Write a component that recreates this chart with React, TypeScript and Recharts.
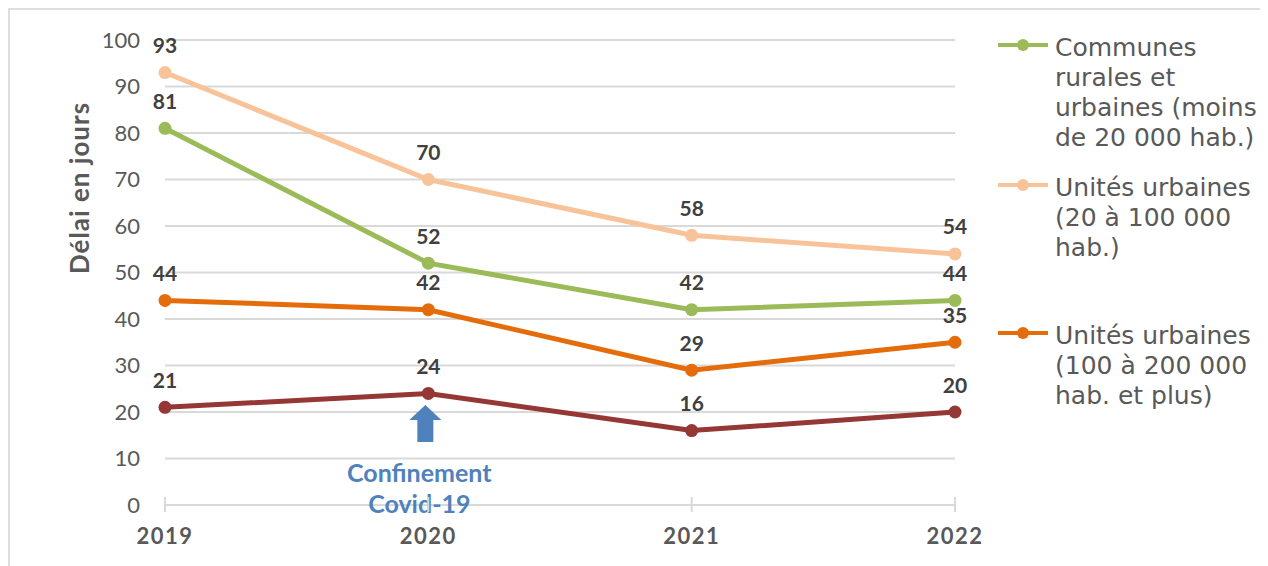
import React from 'react';
import {
  LineChart,
  Line,
  XAxis,
  YAxis,
  CartesianGrid,
  LabelList,
  Legend,
  ReferenceDot,
} from 'recharts';

const categories = ['2019', '2020', '2021', '2022'];
const communesRurales = [81, 52, 42, 44];
const unites20a100 = [93, 70, 58, 54];
const unites100a200 = [44, 42, 29, 35];
const grandesUnites = [21, 24, 16, 20];
const yTicks = [0, 10, 20, 30, 40, 50, 60, 70, 80, 90, 100];

const yLabel = 'Délai en jours';
const annotationLines = ['Confinement', 'Covid-19'];
const annotationCategory = '2020';

const series = [
  {
    key: 'unites20a100',
    color: '#F9C39A',
    legend: ['Unités urbaines', '(20 à 100 000', 'hab.)'],
    name: 'Unités urbaines (20 à 100 000 hab.)',
  },
  {
    key: 'communesRurales',
    color: '#9BBB59',
    legend: ['Communes', 'rurales et', 'urbaines (moins', 'de 20 000 hab.)'],
    name: 'Communes rurales et urbaines (moins de 20 000 hab.)',
  },
  {
    key: 'unites100a200',
    color: '#E46C0A',
    legend: ['Unités urbaines', '(100 à 200 000', 'hab. et plus)'],
    name: 'Unités urbaines (100 à 200 000 hab. et plus)',
  },
  {
    key: 'grandesUnites',
    color: '#953735',
    legend: null,
    name: 'Autres',
  },
];

const legendOrder = ['communesRurales', 'unites20a100', 'unites100a200'];
const legendGaps = [0, 20, 58];

const data = categories.map((c, i) => ({
  year: c,
  communesRurales: communesRurales[i],
  unites20a100: unites20a100[i],
  unites100a200: unites100a200[i],
  grandesUnites: grandesUnites[i],
}));

const FONT = 'Lato, "Open Sans", sans-serif';
const LEGEND_FONT = '"DejaVu Sans", Verdana, sans-serif';

const DataLabel = (props: any) => {
  const { x, y, value } = props;
  return (
    <text
      x={x}
      y={y - 28}
      textAnchor="middle"
      dominantBaseline="central"
      fontFamily={FONT}
      fontWeight={700}
      fontSize={21}
      fill="#404040"
    >
      {value}
    </text>
  );
};

const XTick = (props: any) => {
  const { x, y, payload } = props;
  return (
    <g>
      <line x1={x} x2={x} y1={y - 8} y2={y + 7} stroke="#d9d9d9" strokeWidth={2} />
      <text
        x={x}
        y={y + 30}
        textAnchor="middle"
        dominantBaseline="central"
        fontFamily={FONT}
        fontWeight={700}
        fontSize={22}
        letterSpacing={1.5}
        fill="#595959"
      >
        {payload.value}
      </text>
    </g>
  );
};

const YLabel = (props: any) => {
  const { viewBox } = props;
  const x = viewBox.x - 26;
  const y = viewBox.y + 148;
  return (
    <text
      x={x}
      y={y}
      transform={`rotate(-90 ${x} ${y})`}
      textAnchor="middle"
      dominantBaseline="central"
      fontFamily={FONT}
      fontWeight={700}
      fontSize={26}
      letterSpacing={1}
      fill="#595959"
    >
      {yLabel}
    </text>
  );
};

const Annotation = (props: any) => {
  const { cx, cy } = props;
  const ax = cx - 3;
  const tip = cy - 100;
  const headBase = cy - 85;
  const shaftBottom = cy - 63;
  const pts = [
    [ax, tip],
    [ax + 16, headBase],
    [ax + 8, headBase],
    [ax + 8, shaftBottom],
    [ax - 8, shaftBottom],
    [ax - 8, headBase],
    [ax - 16, headBase],
  ]
    .map((p) => p.join(','))
    .join(' ');
  return (
    <g>
      <polygon points={pts} fill="#4F81BD" />
      {annotationLines.map((t, i) => (
        <text
          key={t}
          x={cx - 9}
          y={cy - 33 + i * 31}
          textAnchor="middle"
          dominantBaseline="central"
          fontFamily={FONT}
          fontWeight={700}
          fontSize={25}
          fill="#4F81BD"
        >
          {t}
        </text>
      ))}
    </g>
  );
};

const LegendContent = () => {
  return (
    <div style={{ fontFamily: LEGEND_FONT, fontSize: 25, lineHeight: '30px', color: '#595959' }}>
      {legendOrder.map((k, i) => {
        const s = series.find((q) => q.key === k)!;
        return (
          <div key={k} style={{ position: 'relative', marginTop: legendGaps[i], paddingLeft: 57 }}>
            <svg width={50} height={24} style={{ position: 'absolute', left: 0, top: 0 }}>
              <line x1={0} x2={50} y1={12} y2={12} stroke={s.color} strokeWidth={4} />
              <circle cx={25} cy={12} r={6} fill={s.color} />
            </svg>
            {s.legend!.map((l) => (
              <div key={l} style={{ whiteSpace: 'nowrap' }}>
                {l}
              </div>
            ))}
          </div>
        );
      })}
    </div>
  );
};

export default function App() {
  return (
    <div
      style={{
        position: 'relative',
        width: 1256,
        height: 570,
        border: '2px solid #dedede',
        boxSizing: 'border-box',
        background: '#fff',
        fontFamily: FONT,
      }}
    >
      <div style={{ position: 'absolute', left: 0, top: 0 }}>
        <LineChart
          width={1252}
          height={556}
          data={data}
          margin={{ top: 30, right: 307, bottom: 16, left: 95 }}
        >
          <CartesianGrid vertical={false} stroke="#d9d9d9" strokeWidth={2} />
          <XAxis
            dataKey="year"
            scale="point"
            padding={{ left: 0, right: 0 }}
            axisLine={{ stroke: '#d9d9d9', strokeWidth: 2 }}
            tickLine={false}
            tickSize={0}
            tickMargin={0}
            height={45}
            tick={<XTick />}
            interval={0}
          />
          <YAxis
            domain={[0, 100]}
            ticks={yTicks}
            axisLine={false}
            tickLine={false}
            tickSize={0}
            tickMargin={25}
            width={60}
            tick={{ fill: '#595959', fontSize: 22, fontFamily: FONT }}
            label={<YLabel />}
          />
          <Legend
            layout="vertical"
            align="center"
            verticalAlign="middle"
            content={<LegendContent />}
            wrapperStyle={{ left: 988, top: 23, width: 264 }}
          />
          {series.map((s) => (
            <Line
              key={s.key}
              type="linear"
              dataKey={s.key}
              name={s.name}
              stroke={s.color}
              strokeWidth={5}
              dot={{ r: 6.5, fill: s.color, stroke: s.color, strokeWidth: 0 }}
              activeDot={false}
              legendType={s.legend ? 'line' : 'none'}
              isAnimationActive={false}
            >
              <LabelList dataKey={s.key} content={<DataLabel />} />
            </Line>
          ))}
          <ReferenceDot
            x={annotationCategory}
            y={0}
            r={0}
            ifOverflow="visible"
            shape={(p: any) => <Annotation {...p} />}
          />
        </LineChart>
      </div>
    </div>
  );
}
